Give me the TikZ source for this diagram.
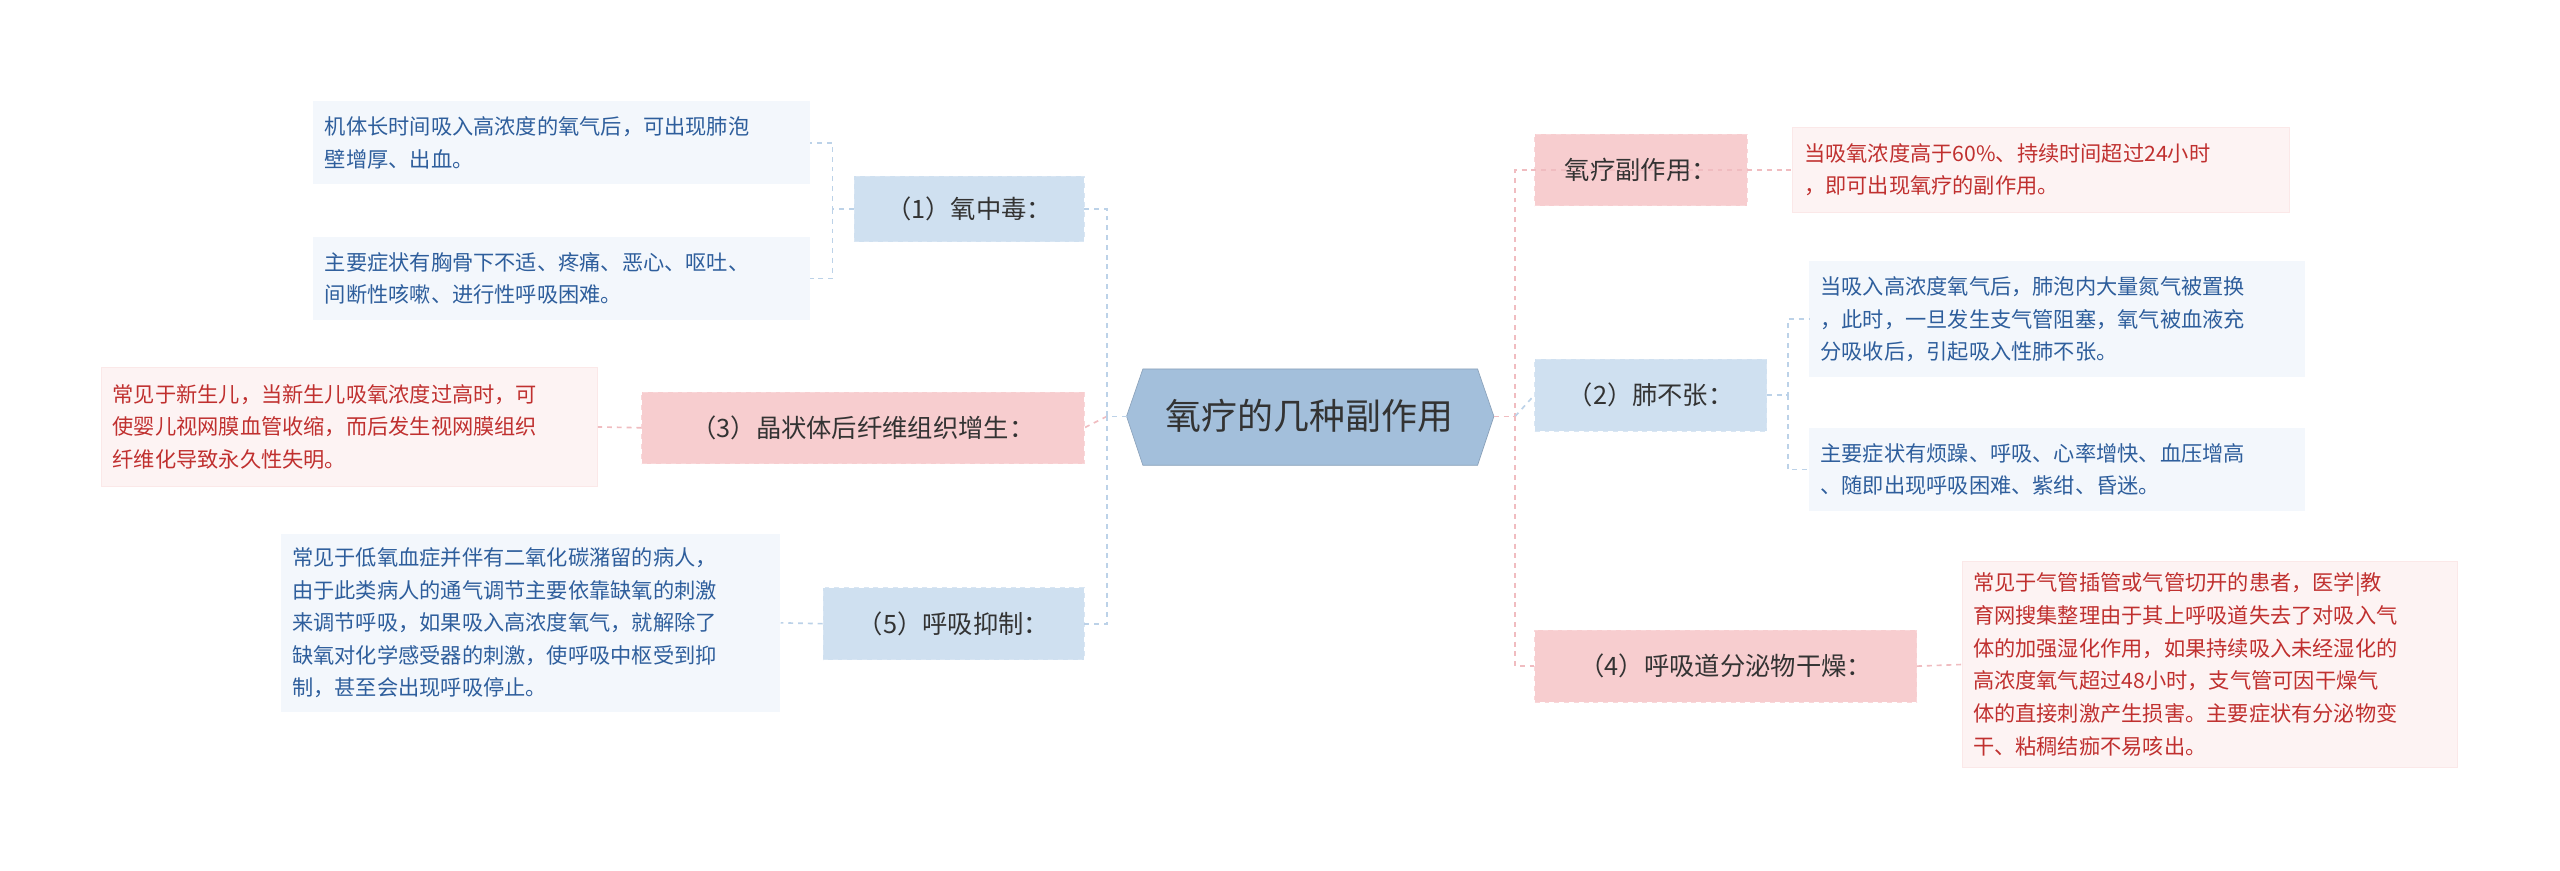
\documentclass[tikz,border=0pt]{standalone}
\usepackage{fontspec}
\setmainfont{Noto Sans CJK SC}
\begin{document}
\begin{tikzpicture}[x=1pt,y=-1pt,
  bl/.style={fill=blueB,draw=blueB!80!white,dashed,inner sep=0pt,font=\fontsize{15.5}{18}\selectfont,text=black!80},
  pk/.style={fill=pinkB,draw=pinkB!80!white,dashed,inner sep=0pt,font=\fontsize{15.5}{18}\selectfont,text=black!80},
  bleaf/.style={fill=blueL,inner sep=0pt,align=left,font=\fontsize{13}{20}\selectfont,text=blueT},
  pleaf/.style={fill=pinkL,draw=pinkL!70!pinkB,inner sep=0pt,align=left,font=\fontsize{13}{20}\selectfont,text=redT},
  bcon/.style={draw=blueC,dashed,line width=1pt},
  pcon/.style={draw=pinkC,dashed,line width=1pt}]
\definecolor{blueB}{HTML}{CFE0F0}
\definecolor{pinkB}{HTML}{F7CDCF}
\definecolor{blueL}{HTML}{F3F7FC}
\definecolor{pinkL}{HTML}{FDF3F3}
\definecolor{blueT}{HTML}{2E5E9C}
\definecolor{redT}{HTML}{C0302F}
\definecolor{blueC}{HTML}{BCD2E8}
\definecolor{pinkC}{HTML}{F0BCC0}
\definecolor{hub}{HTML}{A3BFDB}
\useasboundingbox[fill=white] (0,0) rectangle (1568,533);
\coordinate (lsp) at (678,255);
\coordinate (rsp) at (928,255);
% center
\fill[hub,draw=hub!85!black] (700,226) -- (905,226) -- (915,255) -- (905,285) -- (700,285) -- (690,255) -- cycle;
\node[font=\fontsize{22}{26}\selectfont,text=black!80] (c) at (802,255) {氧疗的几种副作用};
% left branches
\node[bl,minimum width=141pt,minimum height=40pt] (b1) at (593.5,128) {（1）氧中毒：};
\node[pk,minimum width=271pt,minimum height=44pt] (b3) at (528.5,262) {（3）晶状体后纤维组织增生：};
\node[bl,minimum width=160pt,minimum height=44pt] (b5) at (584,382) {（5）呼吸抑制：};
\node[bleaf,minimum width=304pt,minimum height=51pt,text width=290pt] (l11) at (344,87.5) {机体长时间吸入高浓度的氧气后，可出现肺泡\\壁增厚、出血。};
\node[bleaf,minimum width=304pt,minimum height=51pt,text width=290pt] (l12) at (344,170.5) {主要症状有胸骨下不适、疼痛、恶心、呕吐、\\间断性咳嗽、进行性呼吸困难。};
\node[pleaf,minimum width=304pt,minimum height=73pt,text width=290pt] (l3) at (214,261.5) {常见于新生儿，当新生儿吸氧浓度过高时，可\\使婴儿视网膜血管收缩，而后发生视网膜组织\\纤维化导致永久性失明。};
\node[bleaf,minimum width=306pt,minimum height=109pt,text width=292pt] (l5) at (325,381.5) {常见于低氧血症并伴有二氧化碳潴留的病人，\\由于此类病人的通气调节主要依靠缺氧的刺激\\来调节呼吸，如果吸入高浓度氧气，就解除了\\缺氧对化学感受器的刺激，使呼吸中枢受到抑\\制，甚至会出现呼吸停止。};
% right branches
\node[pk,minimum width=130pt,minimum height=44pt] (r0) at (1005,104) {氧疗副作用：};
\node[bl,minimum width=142pt,minimum height=44pt] (r2) at (1011,242) {（2）肺不张：};
\node[pk,minimum width=234pt,minimum height=44pt] (r4) at (1057,408) {（4）呼吸道分泌物干燥：};
\node[pleaf,minimum width=304pt,minimum height=52pt,text width=290pt] (m0) at (1250,104) {当吸氧浓度高于60\%、持续时间超过24小时\\，即可出现氧疗的副作用。};
\node[bleaf,minimum width=304pt,minimum height=71pt,text width=290pt] (m21) at (1260,195.5) {当吸入高浓度氧气后，肺泡内大量氮气被置换\\，此时，一旦发生支气管阻塞，氧气被血液充\\分吸收后，引起吸入性肺不张。};
\node[bleaf,minimum width=304pt,minimum height=51pt,text width=290pt] (m22) at (1260,287.5) {主要症状有烦躁、呼吸、心率增快、血压增高\\、随即出现呼吸困难、紫绀、昏迷。};
\node[pleaf,minimum width=303pt,minimum height=126pt,text width=290pt] (m4) at (1353.5,407) {常见于气管插管或气管切开的患者，医学|教\\育网搜集整理由于其上呼吸道失去了对吸入气\\体的加强湿化作用，如果持续吸入未经湿化的\\高浓度氧气超过48小时，支气管可因干燥气\\体的直接刺激产生损害。主要症状有分泌物变\\干、粘稠结痂不易咳出。};
% connectors
\draw[bcon] (690,255) -- (lsp) |- (b1.east);
\draw[pcon] (lsp) -- (b3.east);
\draw[bcon] (lsp) |- (b5.east);
\draw[pcon] (915,255) -- (rsp) |- (r0.east);
\draw[bcon] (rsp) -- (r2.west);
\draw[pcon] (rsp) |- (r4.west);
\draw[pcon] (r0.east) -- (m0.west);
\draw[pcon] (r4.east) -- (m4.west);
\draw[pcon] (b3.west) -- (l3.east);
\draw[bcon] (b5.west) -- (l5.east);
\draw[bcon] (b1.west) -- ++(-13,0) coordinate (s1) |- (l11.east);
\draw[bcon] (s1) |- (l12.east);
\draw[bcon] (r2.east) -- ++(13,0) coordinate (s2) |- (m21.west);
\draw[bcon] (s2) |- (m22.west);
\end{tikzpicture}
\end{document}
